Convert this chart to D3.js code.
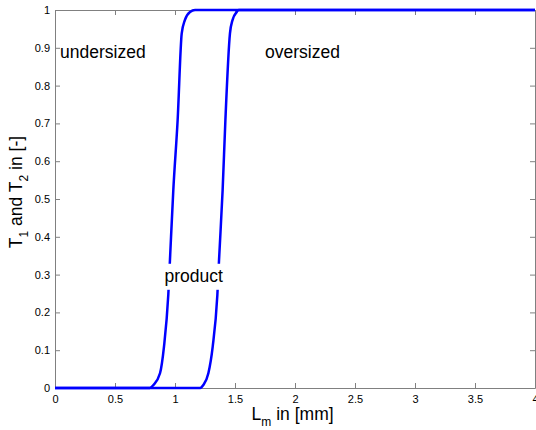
<!DOCTYPE html>
<html>
<head>
<meta charset="utf-8">
<script src="https://cdn.jsdelivr.net/npm/d3@7"></script>
<style>
  body { margin: 0; background: #fff; }
  .chart { width: 536px; height: 430px; }
  text { font-family: "Liberation Sans", Arial, sans-serif; fill: #000; }
</style>
</head>
<body>
<div class="chart"></div>
<script>
// values
var xTicks = [0, 0.5, 1, 1.5, 2, 2.5, 3, 3.5, 4];
var yTicks = [0, 0.1, 0.2, 0.3, 0.4, 0.5, 0.6, 0.7, 0.8, 0.9, 1];

// T1 curve (L in mm, T in [-])
var t1L = [0, 0.5, 0.79, 0.82, 0.875, 0.908, 0.944, 0.958, 0.986, 1.022, 1.056, 1.083, 1.125, 1.167, 2, 3, 4];
var t1T = [0, 0, 0, 0.008, 0.039, 0.109, 0.246, 0.339, 0.524, 0.709, 0.938, 0.974, 0.995, 1, 1, 1, 1];
// T2 curve
var t2L = [0, 0.5, 1, 1.21, 1.236, 1.278, 1.314, 1.353, 1.367, 1.397, 1.42, 1.458, 1.48, 1.515, 1.53, 2, 3, 4];
var t2T = [0, 0, 0, 0, 0.008, 0.039, 0.109, 0.246, 0.339, 0.524, 0.709, 0.938, 0.974, 0.995, 1, 1, 1, 1];

var labels = [
  {text: "undersized", x: 0.042, y: 0.873, anchor: "start"},
  {text: "oversized", x: 1.75, y: 0.873, anchor: "start"},
  {text: "product", x: 1.156, y: 0.281, anchor: "middle", box: true}
];

function drawLineChart() {
  var eleChart = d3.select(".chart").html(""),
      margin = {top: 10, right: 1, bottom: 42, left: 55},
      W = 536, H = 430,
      width = W - margin.left - margin.right,
      height = H - margin.top - margin.bottom;

  var svg = eleChart.append("svg").attr("width", W).attr("height", H);

  var x = d3.scaleLinear().domain([0, 4]).range([0, width]),
      y = d3.scaleLinear().domain([0, 1]).range([height, 0]);

  var g = svg.append("g")
      .attr("transform", "translate(" + margin.left + "," + margin.top + ")");

  var fmt = function(d) { return d3.format("")(d); };

  // axes, ticks pointing inward, on all four sides
  g.append("g").attr("class", "axis axis-x")
      .attr("transform", "translate(0," + height + ")")
      .call(d3.axisBottom(x).tickValues(xTicks).tickSizeInner(-5).tickSizeOuter(0).tickPadding(7).tickFormat(fmt));
  g.append("g").attr("class", "axis axis-y")
      .call(d3.axisLeft(y).tickValues(yTicks).tickSizeInner(-5).tickSizeOuter(0).tickPadding(5).tickFormat(fmt));
  g.append("g").attr("class", "axis")
      .call(d3.axisTop(x).tickValues(xTicks).tickSizeInner(-5).tickSizeOuter(0).tickFormat(""));
  g.append("g").attr("class", "axis")
      .attr("transform", "translate(" + width + ",0)")
      .call(d3.axisRight(y).tickValues(yTicks).tickSizeInner(-5).tickSizeOuter(0).tickFormat(""));

  g.selectAll(".axis path, .axis line").attr("stroke", "#808080").attr("stroke-width", 1);
  g.selectAll(".axis text").style("font-size", "11px").style("font-family", "Liberation Sans, Arial, sans-serif").attr("fill", "#000");

  var line = d3.line()
      .x(function(d) { return x(d[0]); })
      .y(function(d) { return y(d[1]); })
      .curve(d3.curveMonotoneX);

  var series = [d3.zip(t1L, t1T), d3.zip(t2L, t2T)];
  g.selectAll(".curve")
    .data(series)
    .enter().append("path")
      .attr("class", "curve")
      .attr("d", line)
      .attr("fill", "none")
      .attr("stroke", "#0000ff")
      .attr("stroke-width", 2.5);

  // text labels
  labels.forEach(function(l) {
    var t = g.append("text")
      .attr("x", x(l.x)).attr("y", y(l.y))
      .attr("text-anchor", l.anchor)
      .style("font-size", "17.5px")
      .text(l.text);
    if (l.box) {
      var bb = t.node().getBBox();
      g.insert("rect", function() { return t.node(); })
        .attr("x", bb.x - 2).attr("y", bb.y - 2)
        .attr("width", bb.width + 4).attr("height", bb.height + 6)
        .attr("fill", "#fff");
    }
  });

  // x label with subscript
  var xl = svg.append("text")
      .attr("x", margin.left + x(1.98)).attr("y", 420)
      .attr("text-anchor", "middle")
      .style("font-size", "17.5px");
  xl.append("tspan").text("L");
  xl.append("tspan").attr("dy", 6).style("font-size", "12px").text("m");
  xl.append("tspan").attr("dy", -6).text(" in [mm]");

  // y label with subscripts
  var yl = svg.append("text")
      .attr("transform", "translate(22," + 192 + ") rotate(-90)")
      .attr("text-anchor", "middle")
      .style("font-size", "17.5px");
  yl.append("tspan").text("T");
  yl.append("tspan").attr("dy", 6).style("font-size", "12px").text("1");
  yl.append("tspan").attr("dy", -6).text(" and T");
  yl.append("tspan").attr("dy", 6).style("font-size", "12px").text("2");
  yl.append("tspan").attr("dy", -6).text(" in [-]");
}

drawLineChart();
</script>
</body>
</html>
